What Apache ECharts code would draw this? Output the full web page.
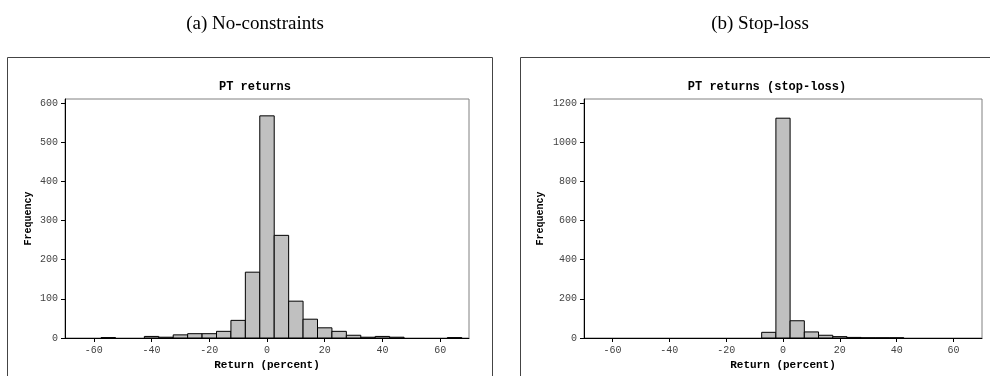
<!DOCTYPE html>
<html>
<head>
<meta charset="utf-8">
<script src="https://cdn.jsdelivr.net/npm/echarts@6/dist/echarts.min.js"></script>
<style>
  html, body { margin: 0; padding: 0; background: #fff; }
  #chart { width: 990px; height: 376px; }
</style>
</head>
<body>
<div id="chart"></div>
<script>
var myChart = echarts.init(document.getElementById('chart'));

// 直方图数据 (bin 中心, 宽度 5)
let binCenters = [-55, -50, -45, -40, -35, -30, -25, -20, -15, -10, -5, 0, 5, 10, 15, 20, 25, 30, 35, 40, 45, 50, 55, 60, 65]
let countsA = [1, 0, 0, 4, 2, 8, 11, 11, 17, 45, 168, 567, 262, 94, 48, 26, 17, 7, 2, 4, 2, 0, 0, 0, 1]
let countsB = [0, 0, 0, 0, 0, 0, 0, 0, 0, 0, 29, 1122, 88, 31, 14, 7, 3, 1, 1, 1, 0, 0, 0, 0, 0]
let xTicks = [-60, -40, -20, 0, 20, 40, 60]
let yTicksA = [0, 100, 200, 300, 400, 500, 600]
let yTicksB = [0, 200, 400, 600, 800, 1000, 1200]
let binWidth = 5

var mono = '"Courier New", "Nimbus Mono PS", "Liberation Mono", monospace'

function pairs(counts) {
    var out = []
    for (var i = 0; i < binCenters.length; i++) {
        if (counts[i] > 0) out.push([binCenters[i], counts[i]])
    }
    return out
}

function renderBar(params, api) {
    var c = api.value(0)
    var p0 = api.coord([c - binWidth / 2, api.value(1)])
    var p1 = api.coord([c + binWidth / 2, 0])
    return {
        type: 'rect',
        shape: { x: p0[0], y: p0[1], width: p1[0] - p0[0], height: p1[1] - p0[1] },
        style: { fill: '#c0c0c0', stroke: '#000', lineWidth: 1 }
    }
}

function xAxisOpt(idx) {
    return {
        type: 'value',
        gridIndex: idx,
        min: -70,
        max: 70,
        name: 'Return (percent)',
        nameLocation: 'middle',
        nameGap: 21,
        nameTextStyle: { fontFamily: mono, fontWeight: 'bold', fontSize: 11, color: '#000' },
        splitLine: { show: false },
        axisLine: { show: true, onZero: false, lineStyle: { color: '#000', width: 1 } },
        axisTick: { show: true, length: 4, lineStyle: { color: '#000' }, customValues: xTicks },
        axisLabel: { color: '#444', fontFamily: mono, fontSize: 10, margin: 7, customValues: xTicks,
            formatter: function (v) { return String(v) } }
    }
}

function yAxisOpt(idx, max, ticks) {
    return {
        type: 'value',
        gridIndex: idx,
        min: 0,
        max: max,
        name: 'Frequency',
        nameLocation: 'middle',
        nameRotate: 90,
        nameGap: idx === 0 ? 32 : 39,
        nameTextStyle: { fontFamily: mono, fontWeight: 'bold', fontSize: 10, color: '#000' },
        splitLine: { show: false },
        axisLine: { show: true, onZero: false, lineStyle: { color: '#000', width: 1 } },
        axisTick: { show: true, length: 4, lineStyle: { color: '#000' }, customValues: ticks },
        axisLabel: { color: '#444', fontFamily: mono, fontSize: 10, margin: 7, customValues: ticks,
            formatter: function (v) { return String(v) } }
    }
}

option = {
    animation: false,
    title: [
        { text: '(a) No-constraints', left: 250, top: 10, textAlign: 'center',
          textStyle: { fontFamily: '"Liberation Serif", "DejaVu Serif", serif', fontWeight: 'normal', fontSize: 19, color: '#000' } },
        { text: '(b) Stop-loss', left: 755, top: 10, textAlign: 'center',
          textStyle: { fontFamily: '"Liberation Serif", "DejaVu Serif", serif', fontWeight: 'normal', fontSize: 19, color: '#000' } },
        { text: 'PT returns', left: 250, top: 76, textAlign: 'center',
          textStyle: { fontFamily: mono, fontWeight: 'bold', fontSize: 12, color: '#000' } },
        { text: 'PT returns (stop-loss)', left: 762, top: 76, textAlign: 'center',
          textStyle: { fontFamily: mono, fontWeight: 'bold', fontSize: 12, color: '#000' } }
    ],
    graphic: [
        // 面板外框
        { type: 'rect', shape: { x: 7.5, y: 57.5, width: 485, height: 340 }, style: { fill: 'none', stroke: '#444', lineWidth: 1 } },
        { type: 'rect', shape: { x: 520.5, y: 57.5, width: 490, height: 340 }, style: { fill: 'none', stroke: '#444', lineWidth: 1 } }
    ],
    grid: [
        { left: 65, right: 521, top: 99, bottom: 38, show: true, borderColor: '#808080', borderWidth: 1 },
        { left: 584, right: 8, top: 99, bottom: 38, show: true, borderColor: '#808080', borderWidth: 1 }
    ],
    xAxis: [xAxisOpt(0), xAxisOpt(1)],
    yAxis: [yAxisOpt(0, 610, yTicksA), yAxisOpt(1, 1220, yTicksB)],
    series: [
        { type: 'custom', xAxisIndex: 0, yAxisIndex: 0, renderItem: renderBar, data: pairs(countsA) },
        { type: 'custom', xAxisIndex: 1, yAxisIndex: 1, renderItem: renderBar, data: pairs(countsB) }
    ]
};

myChart.setOption(option);
</script>
</body>
</html>
